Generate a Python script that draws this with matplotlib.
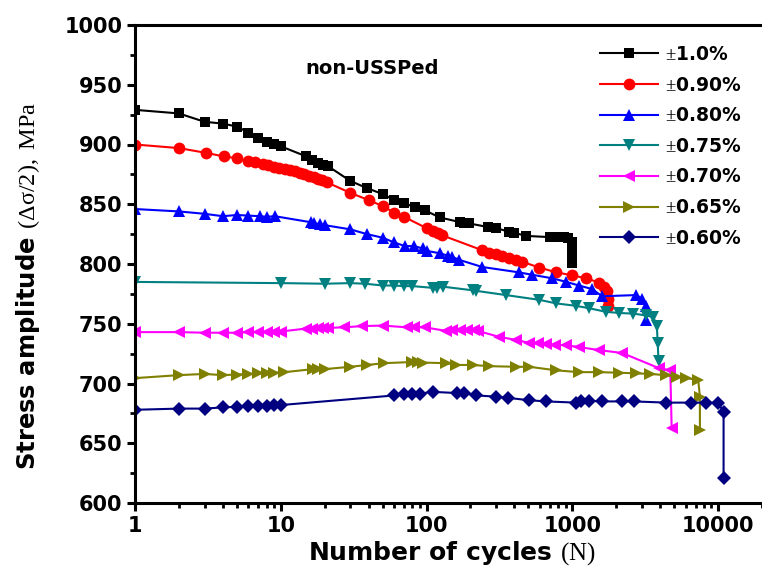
import numpy as np
import matplotlib
matplotlib.use("Agg")
import matplotlib.pyplot as plt
from matplotlib.ticker import LogLocator, NullFormatter, MultipleLocator

plt.rcParams['font.family'] = ['DejaVu Sans']
plt.rcParams['mathtext.fontset'] = 'custom'
plt.rcParams['mathtext.rm'] = 'Liberation Serif'
plt.rcParams['mathtext.it'] = 'Liberation Serif:italic'
plt.rcParams['mathtext.bf'] = 'Liberation Serif:bold'

# ---- data ----
labels = [r"$\mathrm{\pm}$1.0%", r"$\mathrm{\pm}$0.90%", r"$\mathrm{\pm}$0.80%",
          r"$\mathrm{\pm}$0.75%", r"$\mathrm{\pm}$0.70%", r"$\mathrm{\pm}$0.65%",
          r"$\mathrm{\pm}$0.60%"]

N_10 = [1, 2, 3, 4, 5, 6, 7, 8, 9, 10, 15, 16.5, 18, 19.5, 21, 30, 39, 50, 60, 70, 83, 97,
        123, 170, 182, 195, 262, 300, 370, 400, 484, 700, 760, 820, 880, 930, 990, 1000, 1000, 1000]
S_10 = [929, 926, 919, 917.5, 915, 910, 905.5, 902.5, 900.5, 898.5, 890, 887, 884.5, 883, 882,
        869.5, 863.5, 858.5, 853.5, 851, 847.5, 845, 839, 835, 834, 834, 831, 830, 827, 826,
        823.5, 822.5, 822.5, 822.5, 822.5, 822, 818, 812, 806, 801]

N_09 = [1, 2, 3.07, 4.07, 5, 6, 6.7, 7.5, 8.2, 9, 9.8, 10.7, 11.6, 12.5, 13.5, 14.5, 15.6,
        16.8, 18, 19.3, 20.6, 30, 40, 50, 60, 70, 100, 110, 120, 128, 241, 270, 300, 330, 370,
        410, 450, 594, 778, 1000, 1250, 1520, 1650, 1720, 1750, 1750]
S_09 = [900, 897, 893, 890, 888.5, 886, 885, 883.5, 882.5, 881.5, 880.5, 879.5, 878.5, 877.5,
        876.5, 875.5, 874, 872.5, 871, 870, 868.5, 859.5, 853.5, 848.5, 843, 839.5, 830, 828,
        826, 824, 811.5, 809.5, 808, 806.5, 805, 803.5, 802, 797, 793, 790.5, 788, 784.5, 781,
        777, 771, 765]

N_08 = [1, 2, 3, 4, 5, 6, 7.2, 8, 9.1, 16, 17, 18.5, 20, 30, 39, 50, 60, 71, 82, 94, 100, 123,
        140, 150, 167, 241, 430, 530, 730, 910, 1110, 1370, 1600, 2750, 3000, 3200, 3200]
S_08 = [846, 844, 842, 840, 841, 840.5, 840, 839.5, 840, 835, 834, 833.5, 832.5, 829, 825, 822,
        818, 815, 815, 813, 811, 809, 807, 806, 803.5, 797.5, 793, 791, 788, 785, 782, 779, 773,
        774, 771, 765, 753]

N_075 = [1, 10.1, 20, 30, 38, 50, 60, 70, 80, 111, 118, 130, 207, 220, 350, 594, 778, 1060,
         1300, 1700, 2100, 2600, 3200, 3600, 3800, 3850, 3900]
S_075 = [785, 784, 783.5, 784, 783.5, 782, 782, 781.5, 781.5, 780, 780, 781, 778, 777.5, 774,
         770, 767, 765, 763, 760, 759, 758.5, 757, 755.5, 748, 734, 719]

N_07 = [1, 2, 3, 4, 5, 6, 7, 8, 9, 10, 15, 16.5, 18, 19.5, 21, 27, 36, 50, 73, 82, 97, 137,
        150, 170, 190, 210, 225, 315, 410, 505, 580, 660, 760, 910, 1110, 1520, 2200, 3900,
        4700, 4800]
S_07 = [743, 743, 742.5, 742.5, 742.5, 743, 743, 743, 743, 743.5, 746, 746, 746.5, 746.5,
        746.5, 747, 748, 748.5, 747, 747, 747, 744, 745, 745, 745, 744.5, 744, 739, 736.5, 734,
        733.5, 733, 732.5, 732, 730.5, 728, 725.5, 713, 711, 663]

N_065 = [1, 2, 3, 4, 5, 6, 7, 8, 9, 10.6, 16.6, 18, 20, 30, 39, 51, 80, 88, 95, 137, 160, 207,
         270, 410, 505, 778, 1110, 1520, 2100, 2750, 3400, 4400, 5200, 6000, 7300, 7500, 7500]
S_065 = [704.5, 707, 708, 707, 707.5, 708, 708.5, 709, 709, 709.5, 712, 712, 712, 714, 715.5,
         717, 718, 718, 717.5, 717, 715.5, 715.5, 714.5, 714, 714, 711, 709.5, 709.5, 709,
         708.5, 708, 707, 705.5, 704.5, 703, 689, 661]

N_06 = [1, 2, 3, 4, 5, 6, 7, 8, 9, 10.1, 60, 70, 80, 90, 110, 163, 182, 220, 300, 360, 505,
        660, 1060, 1150, 1300, 1600, 2200, 2650, 4400, 6500, 8200, 10000, 10900, 10900]
S_06 = [678, 679, 679, 680, 680.5, 681, 681, 681.5, 682, 682, 690, 691, 691.5, 691.5, 693,
        692, 692, 690, 689, 688, 686, 685, 684, 685, 685.5, 685, 685, 685, 684, 684, 684, 684,
        676, 621]

x_ticks = [1, 10, 100, 1000, 10000]
x_ticklabels = ["1", "10", "100", "1000", "10000"]
y_ticks = [600, 650, 700, 750, 800, 850, 900, 950, 1000]

series = [(N_10, S_10), (N_09, S_09), (N_08, S_08), (N_075, S_075),
          (N_07, S_07), (N_065, S_065), (N_06, S_06)]
colors = ['#000000', '#FF0000', '#0000FF', '#008080', '#FF00FF', '#808000', '#000080']
markers = ['s', 'o', '^', 'v', '<', '>', 'D']
msizes = [7.5, 8.5, 8.5, 8.5, 8.5, 8.5, 7.5]

# ---- figure ----
fig = plt.figure(figsize=(7.62, 5.81), dpi=100)
ax = fig.add_axes([135 / 762, 1 - 503 / 581, 1 - 135 / 762, (503 - 25) / 581])

for (xs, ys), c, m, ms, lab in zip(series, colors, markers, msizes, labels):
    ax.plot(xs, ys, color=c, marker=m, markersize=ms, linewidth=1.5, label=lab,
            markeredgewidth=0)

ax.set_xscale('log')
ax.set_xlim(1, 2e4)
ax.set_ylim(600, 1000)
ax.set_xticks(x_ticks)
ax.set_xticklabels(x_ticklabels)
ax.xaxis.set_minor_locator(LogLocator(base=10, subs=np.arange(2, 10)))
ax.xaxis.set_minor_formatter(NullFormatter())
ax.set_yticks(y_ticks)
ax.yaxis.set_minor_locator(MultipleLocator(25))

for sp in ['left', 'bottom', 'top']:
    ax.spines[sp].set_linewidth(2.2)
ax.spines['right'].set_visible(False)

ax.tick_params(axis='both', which='major', direction='out', length=6, width=2.2,
               labelsize=15, pad=3)
ax.tick_params(axis='both', which='minor', direction='out', length=3.5, width=2.0)
ax.tick_params(top=False, right=False, which='both')
for t in ax.get_xticklabels() + ax.get_yticklabels():
    t.set_fontweight('bold')

ax.set_xlabel(r"Number of cycles $\mathrm{(N)}$", fontsize=18, fontweight='bold')
ax.set_ylabel(r"Stress amplitude $\mathrm{(\Delta\sigma/2),\ MPa}$", fontsize=17.5,
              fontweight='bold')
ax.xaxis.set_label_coords(0.505, -0.075)
ax.yaxis.set_label_coords(-0.148, 0.455)

fig.text(305 / 762, 1 - 69 / 581, "non-USSPed", fontsize=14, fontweight='bold',
         ha='left', va='center')

leg = ax.legend(loc='upper left', bbox_to_anchor=(600 / 762, 1 - 45 / 581),
                bbox_transform=fig.transFigure, frameon=False, borderpad=0,
                borderaxespad=0, handlelength=3.1, handletextpad=0.35,
                labelspacing=0.62, prop={'weight': 'bold', 'size': 13.5})

fig.savefig("out.png", dpi=100)
